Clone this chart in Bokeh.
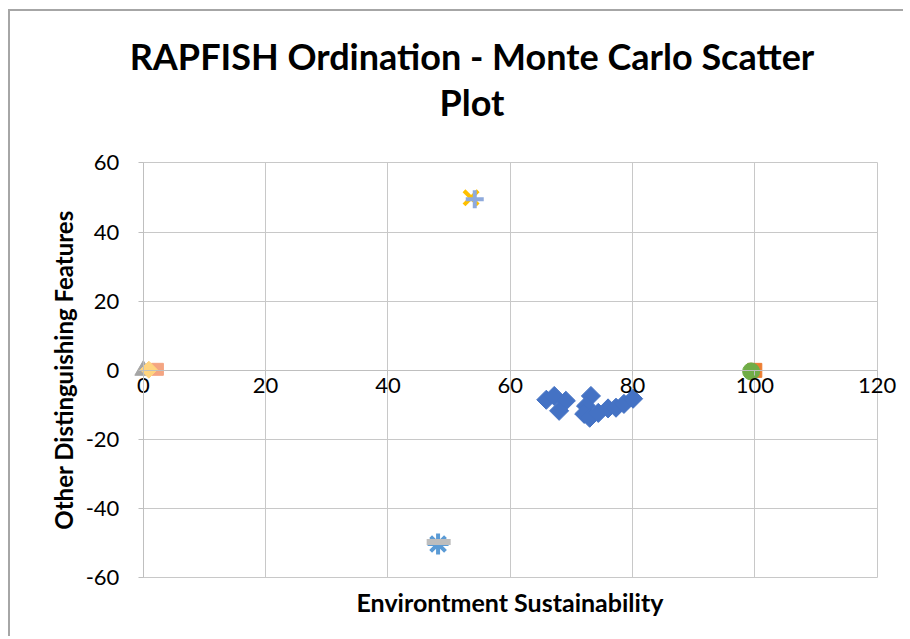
import math
from bokeh.plotting import figure
from bokeh.models import Range1d, Title, FixedTicker, PrintfTickFormatter
from bokeh.embed import file_html
from bokeh.resources import INLINE

# Monte Carlo scatter points (Environment Sustainability, Other Distinguishing Features)
mc_x = [65.9, 67.2, 69.1, 68.0, 73.2, 72.4, 72.1, 73.0, 74.4, 76.0, 77.3, 78.6, 80.1]
mc_y = [-8.5, -7.4, -8.8, -11.7, -7.4, -10.3, -12.6, -13.7, -12.3, -11.0, -10.8, -9.7, -8.2]

# anchor points
good = (100.0, 0.0)
bad = (0.0, 0.0)
up = (53.6, 49.9)
down = (48.2, -50.2)

# reference points
ref_good = (99.4, -0.3)
ref_up = (54.2, 49.5)
ref_down = (48.3, -49.6)
ref_bad_a = (2.3, 0.3)
ref_bad_b = (0.9, 0.2)

x_ticks = [0, 20, 40, 60, 80, 100, 120]
y_ticks = [-60, -40, -20, 0, 20, 40, 60]
x_bounds = (0, 120)
y_bounds = (-60, 60)

FONT = "Lato"
GRID = "#C8C8C8"
AXIS = "#BFBFBF"

p = figure(frame_width=853, frame_height=434,
           x_range=Range1d(-16, 123.5), y_range=Range1d(-62.5, 63),
           output_backend="svg", toolbar_location=None,
           min_border_left=35, min_border_right=5, min_border_top=141, min_border_bottom=50)

p.outline_line_color = None
p.background_fill_color = "white"
p.border_fill_color = "white"

p.xgrid.ticker = FixedTicker(ticks=x_ticks)
p.ygrid.ticker = FixedTicker(ticks=y_ticks)
p.xgrid.cross_bounds = y_bounds
p.ygrid.cross_bounds = x_bounds
for g in (p.xgrid, p.ygrid):
    g.grid_line_color = GRID
    g.grid_line_width = 1

xa = p.xaxis[0]
xa.ticker = FixedTicker(ticks=x_ticks)
xa.formatter = PrintfTickFormatter(format="%d")
xa.fixed_location = 0
xa.bounds = x_bounds
xa.axis_line_color = AXIS
xa.major_tick_line_color = AXIS
xa.major_tick_out = 5
xa.major_tick_in = 0
xa.minor_tick_line_color = None
xa.major_label_text_font = FONT
xa.major_label_text_font_size = "22px"
xa.major_label_text_color = "black"
xa.major_label_standoff = 3

ya = p.yaxis[0]
ya.ticker = FixedTicker(ticks=y_ticks)
ya.formatter = PrintfTickFormatter(format="%d")
ya.fixed_location = 0
ya.bounds = y_bounds
ya.axis_line_color = AXIS
ya.major_tick_line_color = AXIS
ya.major_tick_out = 5
ya.major_tick_in = 0
ya.minor_tick_line_color = None
ya.major_label_text_font = FONT
ya.major_label_text_font_size = "22px"
ya.major_label_text_color = "black"
ya.major_label_standoff = 19
ya.axis_label = "Other Distinguishing Features"
ya.axis_label_text_font = FONT
ya.axis_label_text_font_style = "bold"
ya.axis_label_text_font_size = "24px"
ya.axis_label_text_color = "black"
ya.axis_label_standoff = 5

p.add_layout(Title(text="Environtment Sustainability", align="left", offset=311, vertical_align="top",
                   standoff=0, text_font=FONT, text_font_style="bold", text_font_size="25px",
                   text_color="black"), "below")

p.add_layout(Title(text=" ", text_font=FONT, text_font_size="21px", standoff=0), "above")
p.add_layout(Title(text="Plot", align="center", text_font=FONT, text_font_style="bold",
                   text_font_size="36px", text_color="black", standoff=4), "above")
p.add_layout(Title(text="RAPFISH Ordination - Monte Carlo Scatter", align="center", text_font=FONT,
                   text_font_style="bold", text_font_size="36px", text_color="black", standoff=-5), "above")

ang = math.pi / 4
p.scatter(mc_x, mc_y, marker="square", size=13.5, angle=ang, fill_color="#4472C4", line_color="#4472C4")
p.scatter([good[0]], [good[1]], marker="square", size=14, fill_color="#ED7D31", line_color="#ED7D31")
p.scatter([bad[0]], [bad[1]], marker="triangle", size=17, fill_color="#A5A5A5", line_color="#A5A5A5")
p.scatter([up[0]], [up[1]], marker="x", size=20, line_color="#FFC000", line_width=4)
p.scatter([down[0]], [down[1]], marker="asterisk", size=21, line_color="#5B9BD5", line_width=4)
p.scatter([ref_good[0]], [ref_good[1]], marker="circle", size=17, fill_color="#70AD47", line_color="#70AD47")
p.scatter([ref_up[0]], [ref_up[1]], marker="cross", size=18, line_color="#8FAADC", line_width=4)
p.scatter([ref_down[0]], [ref_down[1]], marker="dash", size=24, line_color="#BDBDBD", line_width=6)
p.scatter([ref_bad_a[0]], [ref_bad_a[1]], marker="square", size=12, fill_color="#F4A582", line_color="#F4A582")
p.scatter([ref_bad_b[0]], [ref_bad_b[1]], marker="square", size=12, angle=ang, fill_color="#FFD47F", line_color="#FFD47F")

p.styles = {"margin-left": "8px", "margin-top": "9px",
            "border-left": "2px solid #A6A6A6", "border-top": "2px solid #A6A6A6"}

open("out.html", "w").write(file_html(p, INLINE))
